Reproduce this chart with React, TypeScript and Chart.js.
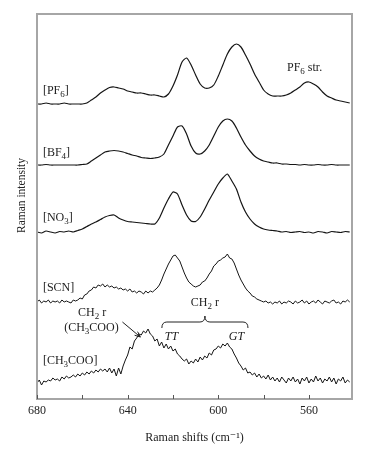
import React, { useEffect, useRef } from 'react';
import { Chart, registerables } from 'chart.js';

Chart.register(...registerables);

const FONT = "'Liberation Serif', 'DejaVu Serif', serif";
const TEXT = '#222';

// Raman shift axis (cm-1), reversed
const xStart = 680;
const xMin = 541;
const coarseStep = 2;
const fineStep = 1;
const tickValues = [680, 660, 640, 620, 600, 580, 560];
const tickLabels = [680, 640, 600, 560];

// Spectra (intensity, offset stacked), sampled from 680 downward
const pf6 = [
  295, 295, 296, 295, 295, 295, 296, 295, 295, 295,
  295, 296, 299, 302, 306, 309, 311.5, 312, 311, 310,
  308, 307, 306, 306, 305, 304, 304, 303, 302, 305,
  313, 324, 337, 341, 334, 324, 315, 311, 311, 314,
  323, 334, 345, 352, 355, 352, 344, 335, 325, 317,
  309, 305, 303, 303, 303, 304, 306, 309, 312, 316,
  317, 315, 312, 307, 303, 301, 299, 298, 297, 296,
];
const bf4 = [
  234, 234, 234.5, 234, 234, 234, 234, 234, 234, 234,
  234.5, 235, 238, 241, 244, 247, 248, 248.5, 248, 247,
  245.5, 244, 243, 241.5, 241, 240.5, 241, 242, 245, 254,
  263, 272, 273, 265, 253, 246, 245, 248, 254, 263,
  272, 278, 280, 278, 271, 262, 254, 248, 243, 240,
  238, 237, 236, 236, 235, 235, 234.5, 234.5, 234, 234.5,
  234, 234, 234.5, 234, 234, 234.5, 234, 234, 234, 234,
];
const no3 = [
  167, 166, 168, 167, 166, 167.5, 167, 168, 167, 168.5,
  170, 172.5, 175, 177, 179.5, 182, 183.5, 184, 181, 179,
  177.5, 177, 176.5, 176, 175.5, 175, 175, 181, 191, 200,
  207, 205, 194, 184, 178, 177.5, 182, 190, 199, 207,
  215, 221, 225, 218, 210, 197, 187, 180, 175, 172,
  170, 169, 168.5, 168, 167, 167.5, 166.5, 167, 167.5, 166.5,
  167, 166, 167.5, 167, 166, 167.5, 167, 166.5, 167.5, 167,
];
const scn = [
  97, 99, 96, 98, 97, 99, 96, 98, 97, 98,
  96, 99, 97, 98, 97, 96, 99, 98, 99, 101,
  100, 104, 105, 108, 109, 112, 111, 114, 113, 115,
  112, 114, 112, 113, 111, 112, 110, 111, 109, 110,
  108, 110, 107, 108, 106, 108, 107, 105, 108, 106,
  108, 107, 109, 111, 114, 119, 125, 130, 135, 139,
  143, 144, 141, 138, 132, 126, 121, 117, 115, 113,
  112, 113, 114, 117, 118, 121, 125, 128, 133, 135,
  138, 139, 141, 142, 145, 141, 140, 136, 130, 124,
  119, 115, 111, 108, 106, 103, 102, 100, 99, 98,
  97, 98, 96, 97, 95, 97, 96, 98, 95, 97,
  96, 98, 97, 95, 98, 96, 97, 99, 96, 98,
  95, 97, 98, 96, 99, 97, 95, 98, 97, 96,
  98, 99, 96, 97, 95, 98, 97, 99, 97,
];
const ch3coo = [
  16, 19, 14, 18, 17, 19, 18, 21, 19, 20,
  18, 22, 20, 23, 21, 22, 24, 22, 25, 23,
  26, 24, 27, 25, 28, 26, 29, 27, 30, 28,
  30, 27, 31, 26, 30, 23, 31, 25, 33, 39,
  44, 52, 50, 58, 61, 65, 64, 68, 66, 70,
  65, 63, 58, 60, 53, 57, 51, 55, 50, 53,
  48, 50, 45, 43, 40, 38, 40, 35, 38, 36,
  40, 37, 42, 39, 43, 41, 46, 44, 49, 50,
  53, 51, 55, 53, 56, 52, 50, 45, 41, 36,
  33, 29, 31, 26, 27, 24, 26, 22, 25, 21,
  23, 20, 24, 19, 22, 18, 21, 17, 22, 19,
  16, 21, 18, 22, 17, 20, 15, 21, 18, 22,
  16, 20, 17, 23, 18, 21, 16, 20, 18, 22,
  17, 21, 15, 20, 18, 22, 16, 19, 17,
];

const seriesNames = ['[PF_6]', '[BF_4]', '[NO_3]', '[SCN]', '[CH_3COO]'];
const yMax = 385;

// annotation anchors (data coordinates)
const seriesLabelX = 677.4;
const seriesLabelY = [308, 246, 181, 111, 38];
const notes = [
  { text: 'PF_6 str.', x: 569.7, y: 331, align: 'left', italic: false },
  { text: 'CH_2 r', x: 605.9, y: 96, align: 'center', italic: false },
  { text: 'TT', x: 620.7, y: 62, align: 'center', italic: true },
  { text: 'GT', x: 592.0, y: 62, align: 'center', italic: true },
  { text: 'CH_2 r', x: 655.7, y: 86, align: 'center', italic: false },
  { text: '(CH_3COO)', x: 656, y: 71, align: 'center', italic: false },
];
const brace = { from: 624.9, to: 586.9, mid: 605.9, y: 77, tipY: 83, endY: 71 };
const arrow = { x1: 642.3, y1: 77, x2: 634.4, y2: 62 };

function toPoints(vals: number[], step: number) {
  return vals.map((y, i) => ({ x: xStart - i * step, y }));
}

function drawRich(ctx: CanvasRenderingContext2D, str: string, x: number, y: number, size: number, align: string, italic: boolean) {
  const parts = str.split(/(_\d+)/).filter((p) => p.length > 0);
  const base = `${italic ? 'italic ' : ''}${size}px ${FONT}`;
  const subSize = Math.round(size * 0.72);
  const sub = `${italic ? 'italic ' : ''}${subSize}px ${FONT}`;
  let total = 0;
  const items = parts.map((p) => {
    const isSub = p.startsWith('_');
    const t = isSub ? p.slice(1) : p;
    ctx.font = isSub ? sub : base;
    const w = ctx.measureText(t).width;
    total += w;
    return { t, isSub, w };
  });
  let cx = align === 'center' ? x - total / 2 : x;
  ctx.textAlign = 'left';
  ctx.textBaseline = 'middle';
  ctx.fillStyle = TEXT;
  for (const it of items) {
    ctx.font = it.isSub ? sub : base;
    ctx.fillText(it.t, cx, it.isSub ? y + size * 0.3 : y);
    cx += it.w;
  }
}

const decorPlugin = {
  id: 'decor',
  afterDraw(chart: any) {
    const { ctx, chartArea } = chart;
    const xs = chart.scales.x;
    const ys = chart.scales.y;
    ctx.save();
    // frame
    ctx.strokeStyle = '#a6a6a6';
    ctx.lineWidth = 2;
    ctx.strokeRect(chartArea.left, chartArea.top, chartArea.right - chartArea.left, chartArea.bottom - chartArea.top);
    // inward ticks
    ctx.strokeStyle = '#555';
    ctx.lineWidth = 1;
    for (const v of tickValues) {
      const px = Math.round(xs.getPixelForValue(v)) + 0.5;
      ctx.beginPath();
      ctx.moveTo(px, chartArea.bottom);
      ctx.lineTo(px, chartArea.bottom - 4);
      ctx.stroke();
    }
    // series labels
    seriesNames.forEach((n, i) => {
      drawRich(ctx, n, xs.getPixelForValue(seriesLabelX), ys.getPixelForValue(seriesLabelY[i]), 12, 'left', false);
    });
    notes.forEach((n) => {
      drawRich(ctx, n.text, xs.getPixelForValue(n.x), ys.getPixelForValue(n.y), 12, n.align, n.italic);
    });
    // brace
    const L = xs.getPixelForValue(brace.from);
    const R = xs.getPixelForValue(brace.to);
    const M = xs.getPixelForValue(brace.mid);
    const yl = ys.getPixelForValue(brace.y);
    const yt = ys.getPixelForValue(brace.tipY);
    const ye = ys.getPixelForValue(brace.endY);
    ctx.strokeStyle = '#222';
    ctx.lineWidth = 1;
    ctx.beginPath();
    ctx.moveTo(L, ye);
    ctx.quadraticCurveTo(L, yl, L + 5, yl);
    ctx.lineTo(M - 5, yl);
    ctx.quadraticCurveTo(M, yl, M, yt);
    ctx.quadraticCurveTo(M, yl, M + 5, yl);
    ctx.lineTo(R - 5, yl);
    ctx.quadraticCurveTo(R, yl, R, ye);
    ctx.stroke();
    // arrow
    const ax1 = xs.getPixelForValue(arrow.x1);
    const ay1 = ys.getPixelForValue(arrow.y1);
    const ax2 = xs.getPixelForValue(arrow.x2);
    const ay2 = ys.getPixelForValue(arrow.y2);
    ctx.beginPath();
    ctx.moveTo(ax1, ay1);
    ctx.lineTo(ax2, ay2);
    const ang = Math.atan2(ay2 - ay1, ax2 - ax1);
    ctx.moveTo(ax2, ay2);
    ctx.lineTo(ax2 - 6 * Math.cos(ang - 0.4), ay2 - 6 * Math.sin(ang - 0.4));
    ctx.moveTo(ax2, ay2);
    ctx.lineTo(ax2 - 6 * Math.cos(ang + 0.4), ay2 - 6 * Math.sin(ang + 0.4));
    ctx.stroke();
    // y title
    ctx.translate(22, (chartArea.top + chartArea.bottom) / 2 - 11);
    ctx.rotate(-Math.PI / 2);
    ctx.font = `11.5px ${FONT}`;
    ctx.fillStyle = TEXT;
    ctx.textAlign = 'center';
    ctx.textBaseline = 'middle';
    ctx.fillText('Raman intensity', 0, 0);
    ctx.restore();
  },
};

export default function App() {
  const ref = useRef<HTMLCanvasElement>(null);
  useEffect(() => {
    if (!ref.current) return;
    const mk = (vals: number[], step: number, tension: number, width: number) => ({
      data: toPoints(vals, step),
      borderColor: '#151515',
      borderWidth: width,
      pointRadius: 0,
      tension,
      fill: false,
    });
    const chart = new Chart(ref.current, {
      type: 'line',
      data: {
        datasets: [
          mk(pf6, coarseStep, 0.25, 1.2),
          mk(bf4, coarseStep, 0.25, 1.2),
          mk(no3, coarseStep, 0.2, 1.2),
          mk(scn, fineStep, 0, 1.0),
          mk(ch3coo, fineStep, 0, 1.0),
        ],
      },
      options: {
        animation: false,
        responsive: true,
        maintainAspectRatio: false,
        layout: { padding: { top: 14, left: 37, right: 16, bottom: 0 } },
        plugins: { legend: { display: false }, tooltip: { enabled: false } },
        scales: {
          x: {
            type: 'linear',
            reverse: true,
            min: xMin,
            max: xStart,
            grid: { display: false, drawTicks: false },
            border: { display: false },
            ticks: {
              stepSize: 20,
              autoSkip: false,
              maxRotation: 0,
              padding: 5,
              color: TEXT,
              font: { family: FONT, size: 12 },
              callback: (v: any) => (tickLabels.includes(Number(v)) ? String(v) : ''),
            },
            title: {
              display: true,
              text: 'Raman shifts (cm⁻¹)',
              color: TEXT,
              font: { family: FONT, size: 12 },
              padding: { top: 0, bottom: 7 },
            },
            afterFit: (s: any) => {
              s.height = 53;
            },
          },
          y: { display: false, min: 0, max: yMax },
        },
      },
      plugins: [decorPlugin],
    } as any);
    return () => chart.destroy();
  }, []);
  return (
    <div style={{ position: 'fixed', left: 0, top: 0, width: 368, height: 452, background: '#fff' }}>
      <canvas ref={ref} />
    </div>
  );
}
